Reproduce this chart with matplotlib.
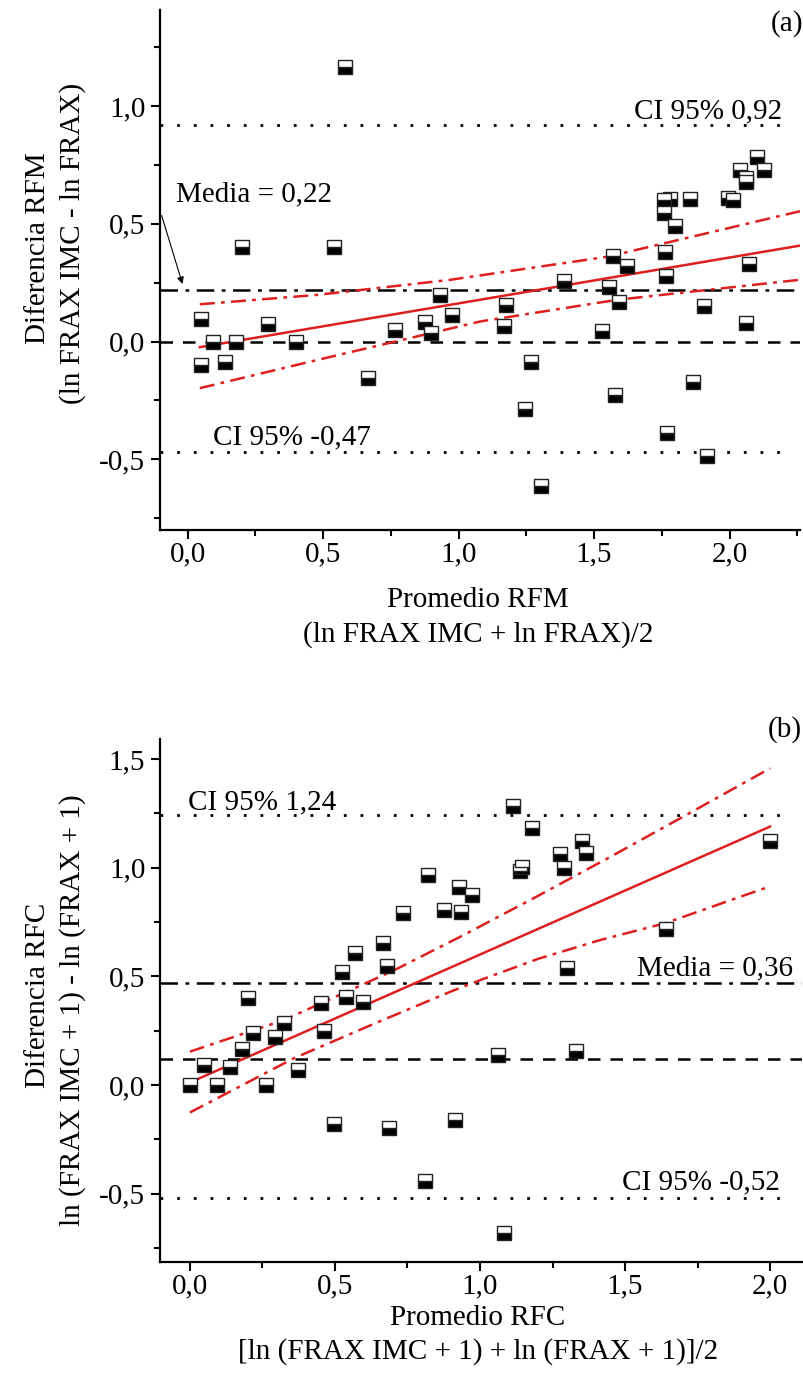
import matplotlib
matplotlib.use("Agg")
import matplotlib.pyplot as plt
from matplotlib.ticker import MultipleLocator, FuncFormatter

plt.rcParams['font.family'] = ['Liberation Serif', 'DejaVu Serif']

# ---------------- Panel (a) data ----------------
a_x = [0.05, 0.05, 0.095, 0.138, 0.18, 0.298, 0.40, 0.667, 0.766, 0.877, 0.898, 0.932, 0.975,
       0.58, 0.20, 0.54,
       2.10, 2.04, 2.126, 2.059, 2.06, 1.993, 2.013, 1.853, 1.782, 1.757, 1.757, 1.797, 1.763,
       1.570, 1.620, 2.072, 1.765, 1.39, 1.555, 1.176, 1.591, 1.905, 1.166, 1.529, 2.059,
       1.268, 1.865, 1.576, 1.244, 1.769, 1.915, 1.304]
a_y = [0.095, -0.10, 0.0, -0.086, 0.0, 0.075, 0.0, -0.156, 0.047, 0.083, 0.038, 0.197, 0.114,
       1.166, 0.40, 0.40,
       0.785, 0.728, 0.728, 0.693, 0.675, 0.607, 0.601, 0.605, 0.605, 0.601, 0.545, 0.492, 0.379,
       0.361, 0.320, 0.328, 0.278, 0.257, 0.233, 0.156, 0.166, 0.151, 0.064, 0.045, 0.078,
       -0.085, -0.170, -0.226, -0.287, -0.389, -0.484, -0.615]
a_fit_x = [0.045, 2.26]
a_fit_y = [-0.024, 0.407]
a_up_x = [0.045, 0.48, 0.97, 1.55, 2.26]
a_up_y = [0.158, 0.198, 0.262, 0.36, 0.553]
a_lo_x = [0.045, 0.48, 1.08, 1.585, 2.26]
a_lo_y = [-0.198, -0.078, 0.085, 0.177, 0.262]
a_ci_hi, a_mean, a_zero, a_ci_lo = 0.92, 0.22, 0.0, -0.47

# ---------------- Panel (b) data ----------------
b_x = [0.0, 0.049, 0.095, 0.139, 0.178, 0.202, 0.216, 0.262, 0.293, 0.325, 0.371, 0.453, 0.462,
       0.497, 0.526, 0.539, 0.569, 0.598, 0.666, 0.680, 0.688, 0.809, 0.913,
       0.734, 0.822, 0.876, 0.927, 0.933, 0.971,
       1.114, 1.180, 1.137, 1.145, 1.275, 1.289, 1.352, 1.367, 2.0, 1.64,
       1.30, 1.061, 1.332, 1.084]
b_y = [0.0, 0.092, 0.0, 0.084, 0.164, 0.402, 0.238, 0.0, 0.222, 0.287, 0.069, 0.379, 0.25,
       -0.179, 0.521, 0.403, 0.609, 0.380, 0.652, 0.548, -0.199, -0.44, -0.161,
       0.793, 0.966, 0.805, 0.913, 0.798, 0.874,
       1.284, 1.181, 0.985, 1.005, 1.063, 0.997, 1.123, 1.066, 1.124, 0.718,
       0.537, 0.138, 0.156, -0.68]
b_fit_x = [0.0, 2.0]
b_fit_y = [0.011, 1.189]
b_up_x = [0.0, 0.325, 0.453, 0.7, 0.944, 1.2, 1.45, 1.701, 2.0]
b_up_y = [0.153, 0.299, 0.376, 0.525, 0.69, 0.87, 1.05, 1.235, 1.457]
b_lo_x = [0.0, 0.359, 0.65, 0.898, 1.002, 1.2, 1.415, 1.638, 1.989]
b_lo_y = [-0.127, 0.123, 0.29, 0.429, 0.483, 0.58, 0.667, 0.744, 0.909]
b_ci_hi, b_mean, b_zero, b_ci_lo = 1.24, 0.47, 0.12, -0.52

FS = 21
RED = '#dd1f1f'
comma = FuncFormatter(lambda v, p: f"{v:.1f}".replace('.', ','))

fig = plt.figure(figsize=(8.04, 13.73), dpi=100)
W, H = 804.0, 1373.0


def make_ax(l, r, t, b):
    return fig.add_axes([l / W, 1 - b / H, (r - l) / W, (b - t) / H])


def style(ax, xlim, ylim):
    ax.set_xlim(*xlim)
    ax.set_ylim(*ylim)
    for s in ['top', 'right']:
        ax.spines[s].set_visible(False)
    for s in ['left', 'bottom']:
        ax.spines[s].set_linewidth(1.6)
    ax.xaxis.set_major_locator(MultipleLocator(0.5))
    ax.xaxis.set_minor_locator(MultipleLocator(0.25))
    ax.yaxis.set_major_locator(MultipleLocator(0.5))
    ax.yaxis.set_minor_locator(MultipleLocator(0.25))
    ax.xaxis.set_major_formatter(comma)
    ax.yaxis.set_major_formatter(comma)
    ax.tick_params(which='major', direction='out', length=6.5, width=1.5, labelsize=FS, pad=4)
    ax.tick_params(axis='x', which='major', pad=2)
    ax.tick_params(which='minor', direction='out', length=4, width=1.5)


def hlines(ax, hi, mean, zero, lo):
    ax.axhline(hi, color='black', lw=2, linestyle=(0, (1, 5)), xmax=0.985)
    ax.axhline(lo, color='black', lw=2, linestyle=(0, (1, 5)), xmax=0.985)
    ax.axhline(mean, color='black', lw=1.8, linestyle=(0, (7, 3, 1.5, 3)))
    ax.axhline(zero, color='black', lw=1.8, linestyle=(0, (5, 4)))


def points(ax, x, y):
    ax.plot(x, y, linestyle='none', marker='s', markersize=9.5, fillstyle='bottom',
            markerfacecolor='black', markerfacecoloralt='white', markeredgecolor='#222222',
            markeredgewidth=1.0, zorder=5, clip_on=False)


def reg(ax, fx, fy, ux, uy, lx, ly):
    ax.plot(fx, fy, color=RED, lw=1.8, zorder=4)
    ax.plot(ux, uy, color=RED, lw=1.8, linestyle=(0, (6, 2.5, 1.5, 2.5)), zorder=4)
    ax.plot(lx, ly, color=RED, lw=1.8, linestyle=(0, (6, 2.5, 1.5, 2.5)), zorder=4)


# ---------------- Panel (a) ----------------
ax1 = make_ax(160, 800, 10, 530)
style(ax1, (-0.102, 2.26), (-0.80, 1.407))
hlines(ax1, a_ci_hi, a_mean, a_zero, a_ci_lo)
reg(ax1, a_fit_x, a_fit_y, a_up_x, a_up_y, a_lo_x, a_lo_y)
points(ax1, a_x, a_y)
ax1.text(2.195, 0.949, 'CI 95% 0,92', fontsize=FS, ha='right', va='baseline')
ax1.text(-0.043, 0.594, 'Media = 0,22', fontsize=FS, ha='left', va='baseline')
ax1.text(0.095, -0.438, 'CI 95% -0,47', fontsize=FS, ha='left', va='baseline')
ax1.annotate('', xy=(-0.016, 0.233), xytext=(-0.099, 0.546),
             arrowprops=dict(arrowstyle='-|>', color='black', lw=0.8, mutation_scale=10),
             annotation_clip=False)

# ---------------- Panel (b) ----------------
ax2 = make_ax(160, 802, 739, 1262)
style(ax2, (-0.103, 2.11), (-0.815, 1.592))
hlines(ax2, b_ci_hi, b_mean, b_zero, b_ci_lo)
reg(ax2, b_fit_x, b_fit_y, b_up_x, b_up_y, b_lo_x, b_lo_y)
points(ax2, b_x, b_y)
ax2.text(-0.008, 1.269, 'CI 95% 1,24', fontsize=FS, ha='left', va='baseline')
ax2.text(2.08, 0.506, 'Media = 0,36', fontsize=FS, ha='right', va='baseline')
ax2.text(2.034, -0.483, 'CI 95% -0,52', fontsize=FS, ha='right', va='baseline')

# panel letters
fig.text(803 / W, 1 - 31 / H, '(a)', fontsize=FS, ha='right', va='baseline')
fig.text(802 / W, 1 - 737 / H, '(b)', fontsize=FS, ha='right', va='baseline')

# axis labels
fig.text(38 / W, 1 - 248 / H, 'Diferencia RFM', fontsize=FS, rotation=90, ha='center', va='center')
fig.text(73 / W, 1 - 243 / H, '(ln FRAX IMC - ln FRAX)', fontsize=FS, rotation=90, ha='center', va='center')
fig.text(478 / W, 1 - 600 / H, 'Promedio RFM', fontsize=FS, ha='center', va='center')
fig.text(478 / W, 1 - 635 / H, '(ln FRAX IMC + ln FRAX)/2', fontsize=FS, ha='center', va='center')

fig.text(38 / W, 1 - 995 / H, 'Diferencia RFC', fontsize=FS, rotation=90, ha='center', va='center')
fig.text(73 / W, 1 - 1010 / H, 'ln (FRAX IMC + 1) - ln (FRAX + 1)', fontsize=FS, rotation=90, ha='center', va='center')
fig.text(478 / W, 1 - 1318 / H, 'Promedio RFC', fontsize=FS, ha='center', va='center')
fig.text(478 / W, 1 - 1352 / H, '[ln (FRAX IMC + 1) + ln (FRAX + 1)]/2', fontsize=FS, ha='center', va='center')

fig.savefig('out.png', dpi=100)
